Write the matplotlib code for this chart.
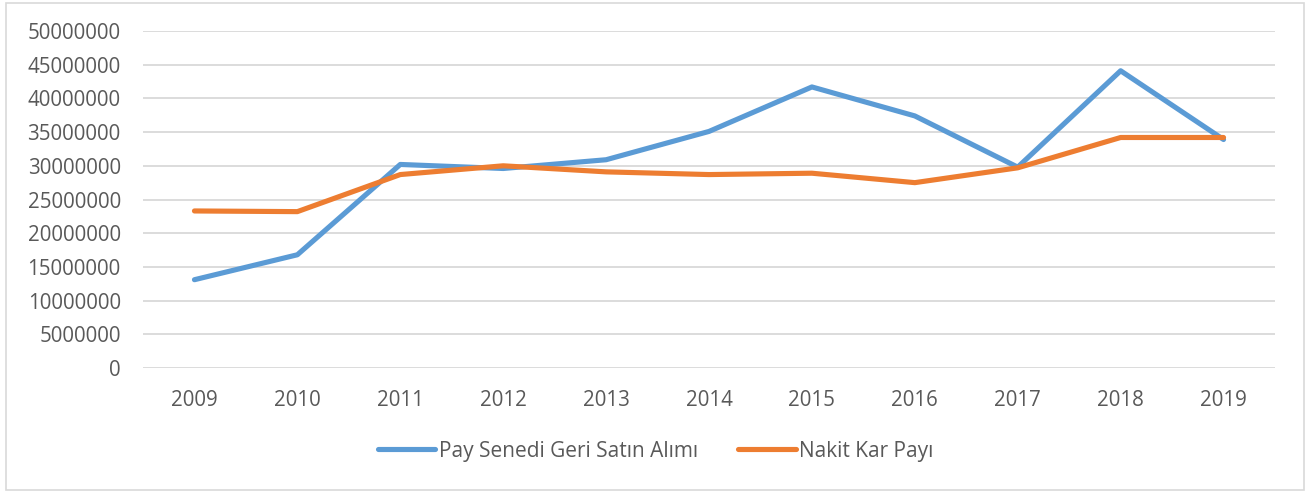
import matplotlib.pyplot as plt
from matplotlib.patches import Rectangle

# values
years = ["2009", "2010", "2011", "2012", "2013", "2014", "2015", "2016", "2017", "2018", "2019"]
buyback = [13100000, 16800000, 30200000, 29600000, 30900000, 35100000,
           41700000, 37400000, 29800000, 44100000, 33900000]
dividend = [23300000, 23200000, 28700000, 30000000, 29100000, 28700000,
            28900000, 27500000, 29700000, 34200000, 34200000]
series_names = ["Pay Senedi Geri Satın Alımı", "Nakit Kar Payı"]
y_ticks = list(range(0, 50000001, 5000000))

plt.rcParams['font.family'] = ['Open Sans', 'DejaVu Sans']
text_col = '#595959'

fig = plt.figure(figsize=(13.06, 4.91), dpi=100)
fig.patch.set_facecolor('white')
ax = fig.add_axes([143 / 1306, 1 - 368 / 491, (1275 - 143) / 1306, (368 - 31) / 491])

x = range(len(years))
ax.plot(x, buyback, color='#5B9BD5', lw=3.7, solid_capstyle='round',
        solid_joinstyle='round', label=series_names[0], zorder=3)
ax.plot(x, dividend, color='#ED7D31', lw=3.7, solid_capstyle='round',
        solid_joinstyle='round', label=series_names[1], zorder=3)

ax.set_xlim(-0.5, len(years) - 0.5)
ax.set_ylim(0, 50000000)
ax.set_yticks(y_ticks)
ax.set_yticklabels([str(v) for v in y_ticks])
ax.set_xticks(list(x))
ax.set_xticklabels(years)
ax.tick_params(axis='y', length=0, pad=16, labelsize=14.8, labelcolor=text_col)
ax.tick_params(axis='x', length=0, pad=16, labelsize=14.8, labelcolor=text_col)
ax.yaxis.grid(True, color='#D9D9D9', lw=1.3)
ax.set_axisbelow(True)
for s in ax.spines.values():
    s.set_visible(False)

leg = fig.legend(loc='center', bbox_to_anchor=(0.502, 1 - 451 / 491), ncol=2,
                 frameon=False, fontsize=15, handlelength=2.75, handletextpad=0.15,
                 columnspacing=1.95)
for t in leg.get_texts():
    t.set_color(text_col)

# chart border like the Excel chart area
fig.patches.append(Rectangle((6 / 1306, 1 / 491), 1298 / 1306, 487 / 491,
                             transform=fig.transFigure, fill=False,
                             edgecolor='#D9D9D9', lw=1.2))

fig.savefig('out.png', dpi=100, facecolor='white')
